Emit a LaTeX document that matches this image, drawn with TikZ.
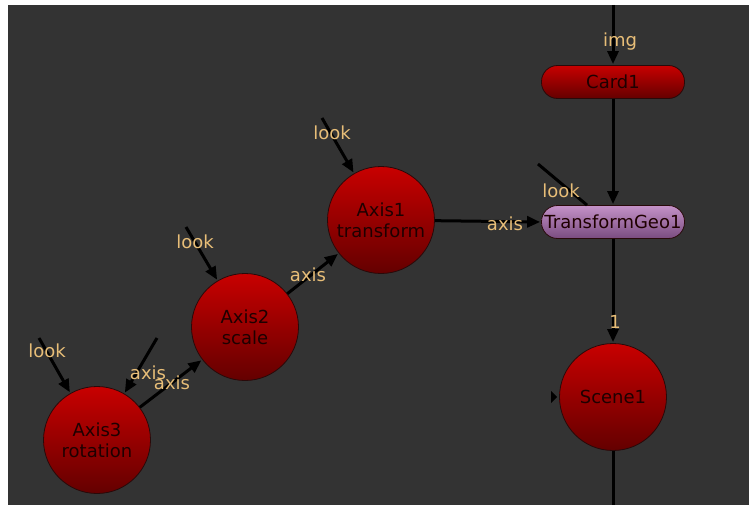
\documentclass[tikz,border=0pt]{standalone}
\usepackage{fontspec}
\newfontfamily\nukefont{DejaVu Sans}
\usetikzlibrary{arrows.meta,positioning}

\definecolor{bgdark}{RGB}{51,51,51}
\definecolor{lblorange}{RGB}{232,190,120}
\definecolor{redtop}{RGB}{200,0,0}
\definecolor{redbot}{RGB}{100,0,0}
\definecolor{purptop}{RGB}{196,146,200}
\definecolor{purpbot}{RGB}{122,76,128}
\definecolor{nodeink}{RGB}{30,0,0}
\definecolor{rimdark}{RGB}{40,10,10}

\tikzset{
  nodefont/.style={font=\nukefont\fontsize{18}{21}\selectfont},
  axisball/.style={circle,minimum size=107pt,inner sep=0pt,top color=redtop,bottom color=redbot,
    draw=rimdark,line width=0.8pt,text=nodeink,align=center,nodefont},
  pill/.style={rounded corners=16pt,minimum width=143pt,minimum height=33pt,inner sep=0pt,
    draw=rimdark,line width=0.8pt,text=nodeink,nodefont},
  wire/.style={line width=3pt,black},
  wirearrow/.style={wire,-{Triangle[length=13pt,width=11pt]},shorten >=1pt},
  lbl/.style={text=lblorange,inner sep=0pt,nodefont}
}

\begin{document}
\begin{tikzpicture}[x=1pt,y=-1pt]
        \useasboundingbox (0,0) rectangle (749,505);
        \fill[bgdark](8,5)rectangle(749,505);
        % nodes
        \node[axisball](Axis1)at(381,220){Axis1\\transform};
        \node[axisball](Axis2)at(245,327){Axis2\\scale};
        \node[axisball](Axis3)at(97,440){Axis3\\rotation};
        \node[axisball](Scene1)at(613,397){Scene1};
        \node[pill,top color=redtop,bottom color=redbot](Card1)at(613,82){Card1};
        \node[pill,top color=purptop,bottom color=purpbot](TransformGeo1)at(613,222){TransformGeo1};
        % free ends
        \coordinate(imgIn)at(613,5);
        \coordinate(sceneOut)at(613,505);
        \coordinate(lookAxis1)at(322,118);
        \coordinate(lookAxis2)at(186,227);
        \coordinate(lookAxis3)at(39,338);
        \coordinate(axisAxis3)at(157,338);
        \coordinate(lookGeo)at(538,164);
        % wires
        \draw[wirearrow](imgIn)to(Card1);
        \draw[wirearrow](Card1)to(TransformGeo1);
        \draw[wirearrow](TransformGeo1)to(Scene1);
        \draw[wire](Scene1)to(sceneOut);
        \draw[wirearrow](Axis1)to(TransformGeo1.west);
        \draw[wirearrow](Axis2)to(Axis1);
        \draw[wirearrow](Axis3)to(Axis2);
        \draw[wirearrow](lookAxis1)to(Axis1);
        \draw[wirearrow](lookAxis2)to(Axis2);
        \draw[wirearrow](lookAxis3)to(Axis3);
        \draw[wirearrow](axisAxis3)to(Axis3);
        \draw[wire](lookGeo)to([xshift=-26pt]TransformGeo1.north);
        \fill(Scene1.west)++(-2,0)--++(-6,-6)--++(0,12)--cycle;
        % labels
        \node[lbl](imgLbl)at(620,42){img};
        \node[lbl](lookLbl1)at(332,133){look};
        \node[lbl](lookLbl2)at(195,242){look};
        \node[lbl](lookLbl3)at(47,351){look};
        \node[lbl](lookLblGeo)at(561,191){look};
        \node[lbl](axisLbl3in)at(148,373){axis};
        \node[lbl](axisLbl32)at(172,383){axis};
        \node[lbl](axisLbl21)at(308,275){axis};
        \node[lbl](axisLbl1Geo)at(505,224){axis};
        \node[lbl](oneLbl)at(615,322){1};
    \end{tikzpicture}
\end{document}
